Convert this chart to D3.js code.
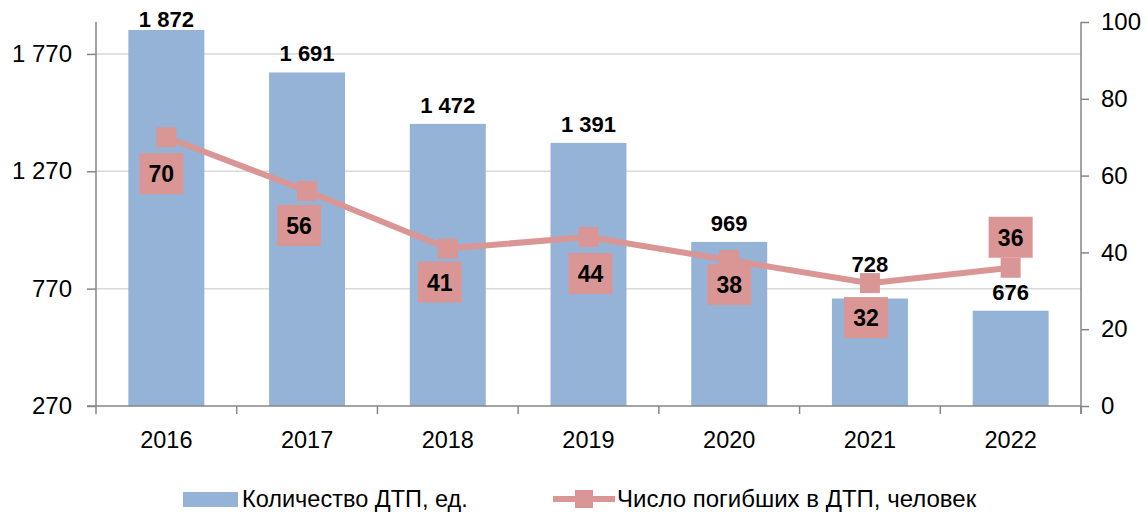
<!DOCTYPE html>
<html>
<head>
<meta charset="utf-8">
<script src="https://cdn.jsdelivr.net/npm/d3@7"></script>
<style>
  body { margin: 0; background: #fff; }
  svg text { font-family: "Liberation Sans", Arial, sans-serif; fill: #000; }
</style>
</head>
<body>
<script>
// данные
const years = ["2016", "2017", "2018", "2019", "2020", "2021", "2022"]
const accidents = [1872, 1691, 1472, 1391, 969, 728, 676]
const deaths = [70, 56, 41, 44, 38, 32, 36]
const leftTicks = [270, 770, 1270, 1770]
const rightTicks = [0, 20, 40, 60, 80, 100]
const seriesNames = ["Количество ДТП, ед.", "Число погибших в ДТП, человек"]

const width = 1147
const height = 514
const plotL = 96, plotR = 1081, plotT = 22, plotB = 406

const barColor = "#95b3d7"
const lineColor = "#d99694"

const svg = d3.select("body").append("svg")
    .attr("width", width)
    .attr("height", height)

const x = d3.scaleBand()
    .domain(years)
    .range([plotL, plotR])
    .paddingInner(0.46)
    .paddingOuter(0.23)

const xStep = d3.scaleBand().domain(years).range([plotL, plotR])

const yL = d3.scaleLinear().domain([270, 1906]).range([plotB, plotT])
const yR = d3.scaleLinear().domain([0, 100]).range([plotB, plotT])

// сетка
svg.append("g")
    .selectAll("line")
    .data(leftTicks.slice(1))
    .enter()
    .append("line")
        .attr("x1", plotL).attr("x2", plotR)
        .attr("y1", d => yL(d)).attr("y2", d => yL(d))
        .attr("stroke", "#d9d9d9")
        .attr("stroke-width", 1.5)

// столбцы
svg.append("g")
    .selectAll("rect")
    .data(accidents)
    .enter()
    .append("rect")
        .attr("x", (d, i) => x(years[i]))
        .attr("width", x.bandwidth())
        .attr("y", d => yL(d))
        .attr("height", d => plotB - yL(d))
        .attr("fill", barColor)

// оси
const axisColor = "#868686"
const leftAxis = svg.append("g")
    .attr("transform", `translate(${plotL},0)`)
    .call(d3.axisLeft(yL).tickValues(leftTicks).tickSize(9).tickPadding(15)
        .tickFormat(d => d3.format(",")(d).replace(",", " ")))
leftAxis.select(".domain").remove()
leftAxis.append("line").attr("y1", plotT).attr("y2", plotB + 8)

const rightAxis = svg.append("g")
    .attr("transform", `translate(${plotR},0)`)
    .call(d3.axisRight(yR).tickValues(rightTicks).tickSize(8).tickPadding(12))
rightAxis.select(".domain").remove()
rightAxis.append("line").attr("y1", plotT).attr("y2", plotB + 8)

const bottomAxis = svg.append("g")
bottomAxis.append("line")
    .attr("x1", plotL - 9).attr("x2", plotR).attr("y1", plotB).attr("y2", plotB)
bottomAxis.selectAll(".tk")
    .data(years)
    .enter()
    .append("line")
        .attr("x1", d => xStep(d) + xStep.bandwidth())
        .attr("x2", d => xStep(d) + xStep.bandwidth())
        .attr("y1", plotB).attr("y2", plotB + 8)
bottomAxis.selectAll("text")
    .data(years)
    .enter()
    .append("text")
        .attr("x", d => xStep(d) + xStep.bandwidth() / 2)
        .attr("y", 448)
        .attr("text-anchor", "middle")
        .style("font-size", "23.5px")
        .text(d => d)

svg.selectAll("g line").filter(function() { return !this.getAttribute("stroke") })
    .attr("stroke", axisColor).attr("stroke-width", 1.5)
svg.selectAll(".tick text").style("font-size", "24px").attr("fill", "#000")
svg.selectAll(".tick line").attr("stroke", axisColor).attr("stroke-width", 1.5)

// подписи столбцов
const barNudge = { "2021": -15 }
svg.append("g")
    .selectAll("text")
    .data(accidents)
    .enter()
    .append("text")
        .attr("x", (d, i) => x(years[i]) + x.bandwidth() / 2)
        .attr("y", (d, i) => Math.max(yL(d) - 11, 27) + (barNudge[years[i]] || 0))
        .attr("text-anchor", "middle")
        .style("font-size", "22px")
        .style("font-weight", "bold")
        .text(d => d3.format(",")(d).replace(",", " "))

// линия
const cx = i => xStep(years[i]) + xStep.bandwidth() / 2
const line = d3.line()
    .x((d, i) => cx(i))
    .y(d => yR(d))

svg.append("path")
    .datum(deaths)
    .attr("d", line)
    .attr("fill", "none")
    .attr("stroke", lineColor)
    .attr("stroke-width", 6)

svg.append("g")
    .selectAll("rect")
    .data(deaths)
    .enter()
    .append("rect")
        .attr("x", (d, i) => cx(i) - 10)
        .attr("y", d => yR(d) - 10)
        .attr("width", 20)
        .attr("height", 20)
        .attr("fill", lineColor)

// подписи линии в плашках
const boxNudge = {
    "2016": [-5, 36], "2017": [-8, 34], "2018": [-8, 33], "2019": [2, 36],
    "2020": [0, 24], "2021": [-4, 34], "2022": [0, -31]
}
const boxes = svg.append("g")
    .selectAll("g")
    .data(deaths)
    .enter()
    .append("g")
        .attr("transform", (d, i) => {
            const n = boxNudge[years[i]]
            return `translate(${cx(i) + n[0]},${yR(d) + n[1]})`
        })
boxes.append("rect")
    .attr("x", -22).attr("y", -20)
    .attr("width", 44).attr("height", 41)
    .attr("fill", lineColor)
boxes.append("text")
    .attr("text-anchor", "middle")
    .attr("y", 9)
    .style("font-size", "23px")
    .style("font-weight", "bold")
    .text(d => d)

// легенда
const legend = svg.append("g")
legend.append("rect")
    .attr("x", 183).attr("y", 492).attr("width", 55).attr("height", 15)
    .attr("fill", barColor)
legend.append("text")
    .attr("x", 242).attr("y", 507)
    .style("font-size", "23.5px")
    .text(seriesNames[0])
legend.append("line")
    .attr("x1", 553).attr("x2", 615).attr("y1", 499).attr("y2", 499)
    .attr("stroke", lineColor).attr("stroke-width", 6)
legend.append("rect")
    .attr("x", 575).attr("y", 490).attr("width", 18).attr("height", 18)
    .attr("fill", lineColor)
legend.append("text")
    .attr("x", 617).attr("y", 507)
    .style("font-size", "24px")
    .text(seriesNames[1])
</script>
</body>
</html>
